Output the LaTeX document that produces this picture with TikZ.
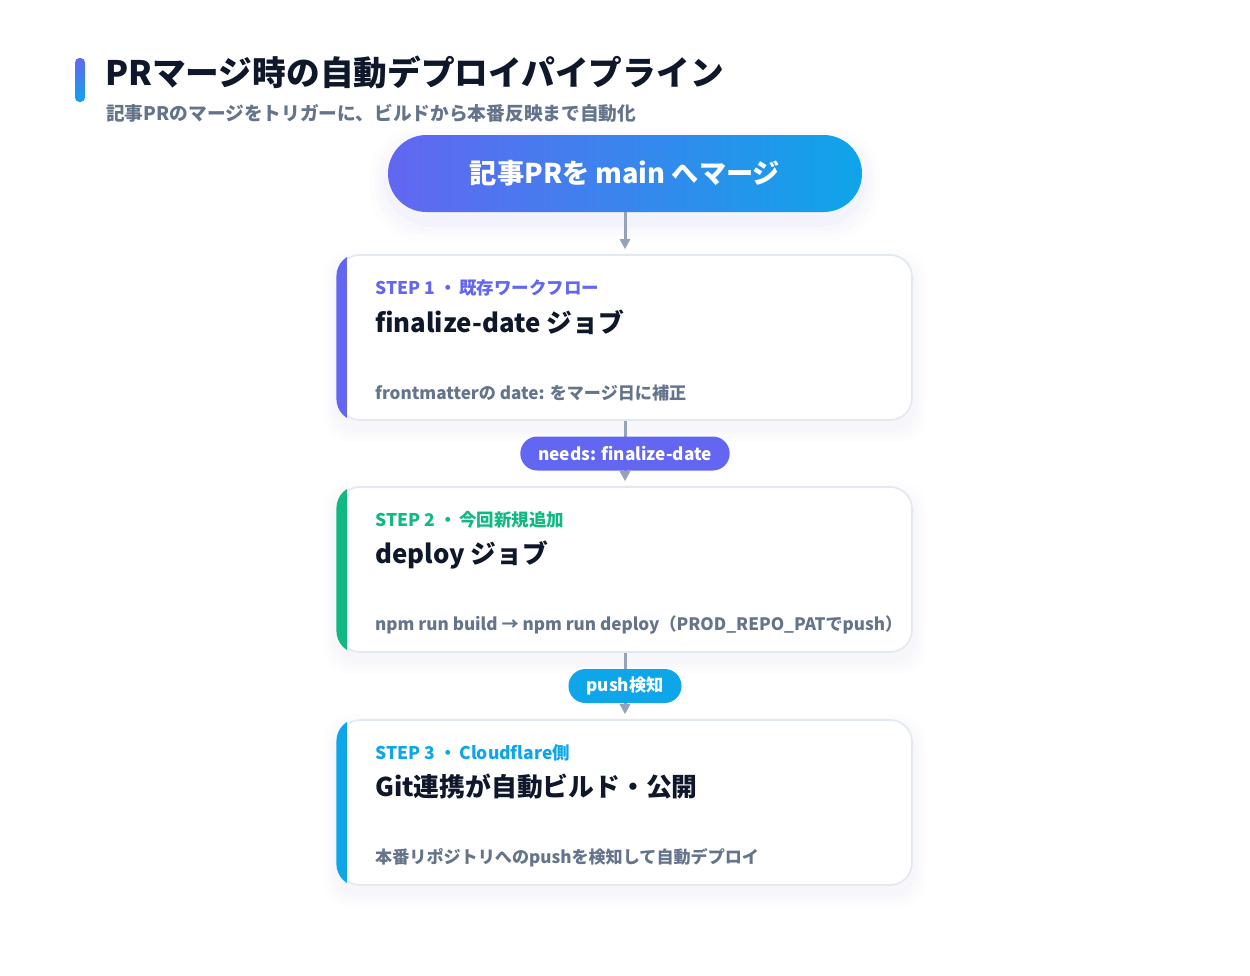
\documentclass[tikz,border=0pt]{standalone}
\usepackage{fontspec}
\setmainfont{Noto Sans CJK JP}
\usetikzlibrary{arrows.meta,calc}
\definecolor{indigo}{HTML}{6366F1}
\definecolor{sky}{HTML}{0EA5E9}
\definecolor{emer}{HTML}{10B981}
\definecolor{ink}{HTML}{0F172A}
\definecolor{slate}{HTML}{64748B}
\definecolor{line}{HTML}{94A3B8}
\definecolor{bord}{HTML}{E2E8F0}
\definecolor{shad}{HTML}{6366F1}
\tikzset{
  card/.style={rectangle, rounded corners=22pt, minimum width=574pt, minimum height=165pt, inner sep=0pt, fill=white, draw=bord, line width=1.6pt},
  steplbl/.style={anchor=west, inner sep=0pt, font=\fontsize{17.5}{22}\selectfont\bfseries, text=#1},
  cardttl/.style={anchor=west, inner sep=0pt, font=\fontsize{25.8}{30}\selectfont\bfseries, text=ink},
  carddesc/.style={anchor=west, inner sep=0pt, font=\fontsize{17.1}{21}\selectfont\bfseries, text=slate},
  flow/.style={draw=line, line width=3pt, -{Triangle[width=10pt,length=10pt]}, shorten >=5pt},
  tag/.style={rectangle, rounded corners=17pt, minimum height=34pt, inner xsep=18pt, fill=#1, text=white, font=\fontsize{17.2}{21}\selectfont\bfseries},
}
\newcommand{\softshadow}[4]{% x1 y1 x2 y2
  \foreach \s/\o in {14/0.006,10/0.009,7/0.012,4/0.015}{
    \fill[shad, opacity=\o, rounded corners=26pt] ($(#1,#2)+(-\s,-\s+8)$) rectangle ($(#3,#4)+(\s,\s+8)$);
  }}
\newcommand{\stripe}[2]{% node, colour
  \begin{scope}
    \clip[rounded corners=22.8pt] ($(#1.north west)+(-0.8,-0.8)$) rectangle ($(#1.south east)+(0.8,0.8)$);
    \fill[#2] ($(#1.north west)+(-1,-1)$) rectangle ($(#1.south west)+(10,1)$);
  \end{scope}}
\begin{document}
\begin{tikzpicture}[x=1pt,y=-1pt]
\useasboundingbox[fill=white] (0,0) rectangle (1250,975);
% header
\shade[top color=indigo, bottom color=sky, rounded corners=4.5pt] (75,58) rectangle (85,102);
\node[anchor=west, inner sep=0pt, text=ink, font=\fontsize{33.7}{40}\selectfont\bfseries] (title) at (105,72) {PRマージ時の自動デプロイパイプライン};
\node[anchor=west, inner sep=0pt, text=slate, font=\fontsize{18.7}{23}\selectfont\bfseries] (sub) at (106,113) {記事PRのマージをトリガーに、ビルドから本番反映まで自動化};
% shadows
\foreach \s/\o in {18/0.01,13/0.014,9/0.018,5/0.022}{
  \fill[shad, opacity=\o, rounded corners=48pt] (388-\s,135-\s+10) rectangle (862+\s,212+\s+10);
}
\softshadow{338}{255}{912}{420}
\softshadow{338}{487}{912}{652}
\softshadow{338}{720}{912}{885}
% trigger pill
\shade[left color=indigo, right color=sky, rounded corners=38.5pt] (388,135) rectangle (862,212);
\node[inner sep=0pt, minimum width=474pt, minimum height=77pt, text=white, font=\fontsize{27.2}{32}\selectfont\bfseries] (trig) at (625,173.5) {記事PRを main へマージ};
% cards
\node[card] (c1) at (625,337.5) {};
\node[card] (c2) at (625,569.5) {};
\node[card] (c3) at (625,802.5) {};
\stripe{c1}{indigo}
\stripe{c2}{emer}
\stripe{c3}{sky}
% connectors
\draw[flow] (trig.south) -- (c1.north);
\draw[flow] (c1.south) -- (c2.north);
\draw[flow] (c2.south) -- (c3.north);
\node[tag=indigo] (t1) at (625,453.5) {needs: finalize-date};
\node[tag=sky] (t2) at (625,686) {push検知};
% card 1 texts
\node[steplbl=indigo] (s1) at (375,288) {STEP 1\hspace{0.25em}・\hspace{0.15em}既存ワークフロー};
\node[cardttl] (h1) at (375,322) {finalize-date ジョブ};
\node[carddesc] (d1) at (375,393) {frontmatterの date: をマージ日に補正};
% card 2 texts
\node[steplbl=emer] (s2) at (375,520) {STEP 2\hspace{0.25em}・\hspace{0.15em}今回新規追加};
\node[cardttl] (h2) at (375,555) {deploy ジョブ};
\node[carddesc] (d2) at (375,625) {npm run build → npm run deploy（PROD\_REPO\_PATでpush）};
% card 3 texts
\node[steplbl=sky] (s3) at (375,753) {STEP 3\hspace{0.25em}・\hspace{0.15em}Cloudflare側};
\node[cardttl] (h3) at (375,787) {Git連携が自動ビルド・公開};
\node[carddesc] (d3) at (375,858) {本番リポジトリへのpushを検知して自動デプロイ};
\end{tikzpicture}
\end{document}
